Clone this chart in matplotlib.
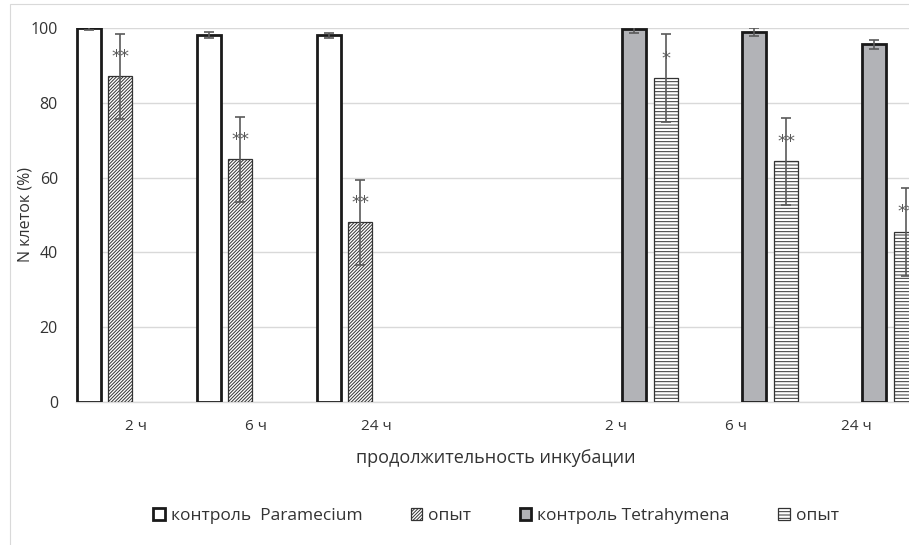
import matplotlib
matplotlib.use("Agg")
import matplotlib.pyplot as plt
from matplotlib.patches import Patch, Rectangle
import numpy as np

plt.rcParams['font.family'] = ['Open Sans', 'DejaVu Sans']
plt.rcParams['hatch.linewidth'] = 0.7

# data
categories = ['2 ч', '6 ч', '24 ч', '', '2 ч', '6 ч', '24 ч']
para_pos = [0, 1, 2]
tetra_pos = [4, 5, 6]

para_ctrl = [100.0, 98.1, 98.0]
para_ctrl_err = [0.5, 0.7, 0.6]
para_exp = [87.1, 64.9, 48.0]
para_exp_err = [11.3, 11.4, 11.4]
para_marks = ['**', '**', '**']

tetra_ctrl = [99.6, 98.9, 95.6]
tetra_ctrl_err = [0.9, 1.1, 1.2]
tetra_exp = [86.6, 64.4, 45.5]
tetra_exp_err = [11.7, 11.6, 11.8]
tetra_marks = ['*', '**', '**']

legend_labels = ['контроль  Paramecium', 'опыт', 'контроль Tetrahymena', 'опыт']

W, H = 909, 545
fig = plt.figure(figsize=(W / 100, H / 100), dpi=100)
ax = fig.add_axes([76 / W, 1 - 402 / H, 840 / W, 374 / H])

bw = 0.2
offs = [-0.39, -0.13, 0.15, 0.42]
diag = '//////////'
horiz = '-----'
err_kw = dict(fmt='none', ecolor='#5a5a5a', elinewidth=1.2, capsize=3.5, capthick=1.2, zorder=4)

pp = np.array(para_pos)
tp = np.array(tetra_pos)

ax.bar(pp + offs[0], para_ctrl, bw, color='white', edgecolor='#1a1a1a', linewidth=2.0, zorder=3)
ax.bar(pp + offs[1], para_exp, bw, color='white', edgecolor='#333333', hatch=diag, linewidth=0.9, zorder=3)
ax.bar(tp + offs[2], tetra_ctrl, bw, color='#b2b3b7', edgecolor='#1a1a1a', linewidth=2.0, zorder=3)
ax.bar(tp + offs[3], tetra_exp, bw, color='white', edgecolor='#333333', hatch=horiz, linewidth=0.9, zorder=3)

ax.errorbar(pp + offs[0], para_ctrl, yerr=para_ctrl_err, **err_kw)
ax.errorbar(pp + offs[1], para_exp, yerr=para_exp_err, **err_kw)
ax.errorbar(tp + offs[2], tetra_ctrl, yerr=tetra_ctrl_err, **err_kw)
ax.errorbar(tp + offs[3], tetra_exp, yerr=tetra_exp_err, **err_kw)

for x, v, m in zip(pp + offs[1], para_exp, para_marks):
    ax.text(x, v + 5.2, m, ha='center', va='center', fontsize=13, color='#5a5a5a', zorder=5, family='DejaVu Sans')
for x, v, m in zip(tp + offs[3], tetra_exp, tetra_marks):
    ax.text(x, v + 5.2, m, ha='center', va='center', fontsize=13, color='#5a5a5a', zorder=5, family='DejaVu Sans')

ax.set_xlim(-0.5, 6.5)
ax.set_ylim(0, 100)
ax.set_yticks([0, 20, 40, 60, 80, 100])
ax.set_xticks(range(len(categories)))
ax.set_xticklabels(categories, fontsize=11, color='#333333')
ax.tick_params(axis='y', labelsize=11.5, labelcolor='#333333', length=0, pad=13)
ax.tick_params(axis='x', length=0, pad=12)
ax.grid(axis='y', color='#d9d9d9', linewidth=1.0, zorder=0)
ax.set_axisbelow(True)
for s in ['top', 'right', 'left']:
    ax.spines[s].set_visible(False)
ax.spines['bottom'].set_color('#d9d9d9')
ax.spines['bottom'].set_linewidth(1.0)

ax.set_ylabel('N клеток (%)', fontsize=11.5, color='#333333')
ax.yaxis.set_label_coords(-0.051, 0.5)
ax.set_xlabel('продолжительность инкубации', fontsize=13, color='#333333', labelpad=11)

handles = [
    Patch(facecolor='white', edgecolor='#1a1a1a', linewidth=2.0),
    Patch(facecolor='white', edgecolor='#333333', hatch=diag, linewidth=0.9),
    Patch(facecolor='#b2b3b7', edgecolor='#1a1a1a', linewidth=2.0),
    Patch(facecolor='white', edgecolor='#333333', hatch=horiz, linewidth=0.9),
]
fig.legend(handles, legend_labels, loc='center', bbox_to_anchor=(496 / W, 1 - 516 / H),
           ncol=4, frameon=False, fontsize=12.5, handlelength=0.65, handleheight=0.65,
           handletextpad=0.35, columnspacing=2.8, labelcolor='#333333')

# chart area border
fig.add_artist(Rectangle((9.5 / W, -0.1), 2, 1.1 - 4.5 / H, transform=fig.transFigure,
                         fill=False, edgecolor='#d9d9d9', linewidth=0.8))

fig.savefig('out.png', dpi=100)
